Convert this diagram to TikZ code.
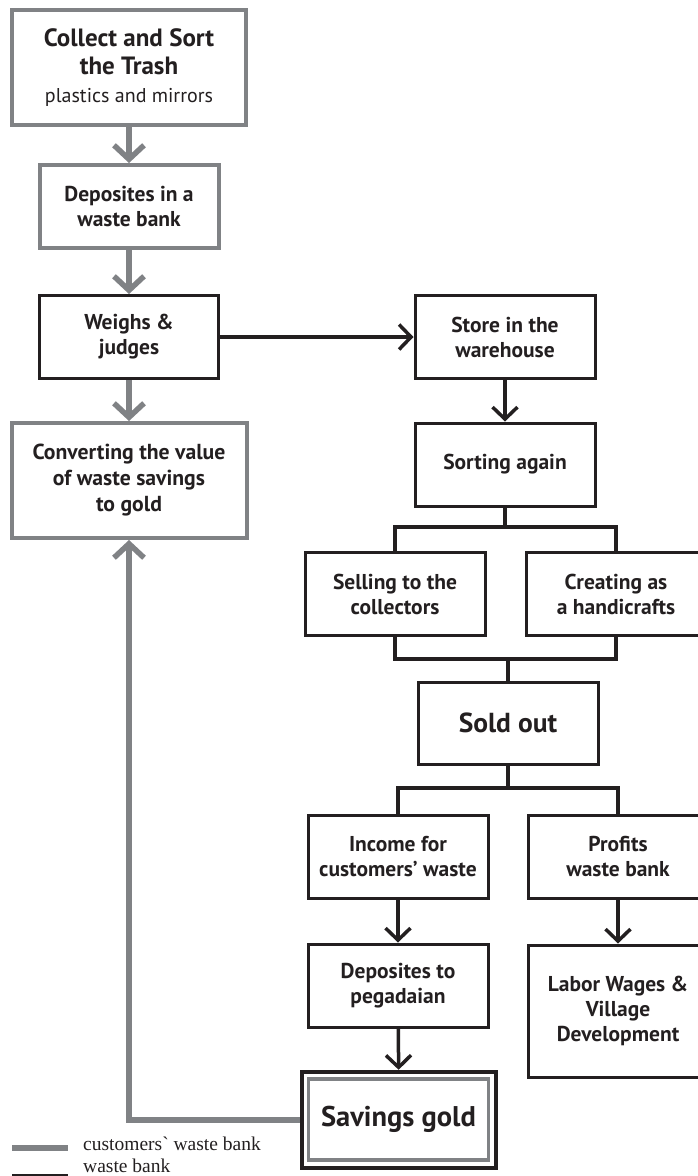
\documentclass[tikz,border=0pt]{standalone}
\usepackage{fontspec}
\setmainfont{PT Sans}
\newfontfamily\legendfont{Liberation Serif}
\usepackage{tikz}
\usetikzlibrary{shapes,arrows.meta,positioning}
\definecolor{bankgray}{RGB}{128,130,133}
\definecolor{bankblack}{RGB}{35,31,32}
\tikzstyle{gbox} = [draw=bankgray, line width=4pt, minimum width=179pt, minimum height=83pt, inner sep=0pt, align=center, text=bankblack, font=\fontsize{21.5}{25}\selectfont\bfseries]
\tikzstyle{kbox} = [draw=bankblack, line width=3pt, minimum width=180pt, minimum height=83pt, inner sep=0pt, align=center, text=bankblack, font=\fontsize{21.5}{25}\selectfont\bfseries]
\tikzstyle{gline} = [draw=bankgray, line width=5.5pt]
\tikzstyle{kline} = [draw=bankblack, line width=3.5pt]
\tikzstyle{garrow} = [gline, -{Straight Barb[length=14pt,width=30pt]}]
\tikzstyle{karrow} = [kline, -{Straight Barb[length=12pt,width=25pt]}]

\begin{document}
\begin{tikzpicture}[x=1pt,y=-1pt]
			\useasboundingbox (0,0) rectangle (697,1176);
			\node [gbox, minimum width=234pt, minimum height=115pt, font=\fontsize{25}{28}\selectfont\bfseries] (collect) at (129,67.5) {Collect and Sort\\the Trash\\{\mdseries\fontsize{20}{26}\selectfont plastics and mirrors}};
			\node [gbox] (deposit) at (129,206.5) {Deposites in a\\waste bank};
			\node [kbox, minimum width=179pt] (weighs) at (129,337) {Weighs \&\\judges};
			\node [gbox, minimum width=235pt, minimum height=115pt, font=\fontsize{21.7}{26}\selectfont\bfseries] (convert) at (129,480.5) {Converting the value\\of waste savings\\to gold};
			\node [kbox] (store) at (505,337) {Store in the\\warehouse};
			\node [kbox] (sorting) at (505,464.5) {Sorting again};
			\node [kbox] (selling) at (395,594) {Selling to the\\collectors};
			\node [kbox] (creating) at (616,594) {Creating as\\a handicrafts};
			\node [kbox, minimum height=82pt, font=\fontsize{27.5}{30}\selectfont\bfseries] (sold) at (508,723) {Sold out};
			\node [kbox] (income) at (398,856.5) {Income for\\customers’ waste};
			\node [kbox] (profits) at (618,856.5) {Profits\\waste bank};
			\node [kbox] (pegadaian) at (398,985.5) {Deposites to\\pegadaian};
			\node [kbox, minimum height=132pt] (labor) at (618,1011) {Labor Wages \&\\Village\\Development};
			\node [kbox, line width=4.5pt, minimum width=194pt, minimum height=96pt] (savings) at (399,1120) {};
			\node [gbox, line width=3.5pt, minimum width=180pt, minimum height=81pt, font=\fontsize{28.5}{30}\selectfont\bfseries] (savingsin) at (398.5,1119.5) {Savings gold};

			\coordinate (split1) at (505,527);
			\coordinate (join1) at (508,659);
			\coordinate (split2) at (508,788);

			\path [garrow] (collect) -- (deposit);
			\path [garrow] (deposit) -- (weighs);
			\path [garrow] (weighs) -- (convert);
			\path [garrow] (savings.west) -| (convert.south);
			\path [karrow] (weighs.east) -- (store.west);
			\path [karrow] (store) -- (sorting);
			\path [kline] (sorting) -- (split1);
			\path [kline] (selling.north) |- (split1) -| (creating.north);
			\path [kline] (selling.south) |- (join1) -| (creating.south);
			\path [kline] (join1) -- (sold);
			\path [kline] (sold) -- (split2);
			\path [kline] (income.north) |- (split2) -| (profits.north);
			\path [karrow] (income) -- (pegadaian);
			\path [karrow] (pegadaian) -- (savings);
			\path [karrow] (profits) -- (labor);

			\coordinate (gkey1) at (12,1148);
			\coordinate (gkey2) at (68,1148);
			\coordinate (kkey1) at (12,1176);
			\coordinate (kkey2) at (68,1176);
			\path [gline] (gkey1) -- (gkey2);
			\path [kline, line width=5pt] (kkey1) -- (kkey2);
			\node [anchor=base west, inner sep=0pt, text=bankblack, font=\legendfont\fontsize{19.5}{20}\selectfont] (gkeytext) at (83,1150) {customers\symbol{"60} waste bank};
			\node [anchor=base west, inner sep=0pt, text=bankblack, font=\legendfont\fontsize{19.5}{20}\selectfont] (kkeytext) at (83,1172.5) {waste bank};
		\end{tikzpicture}
\end{document}
